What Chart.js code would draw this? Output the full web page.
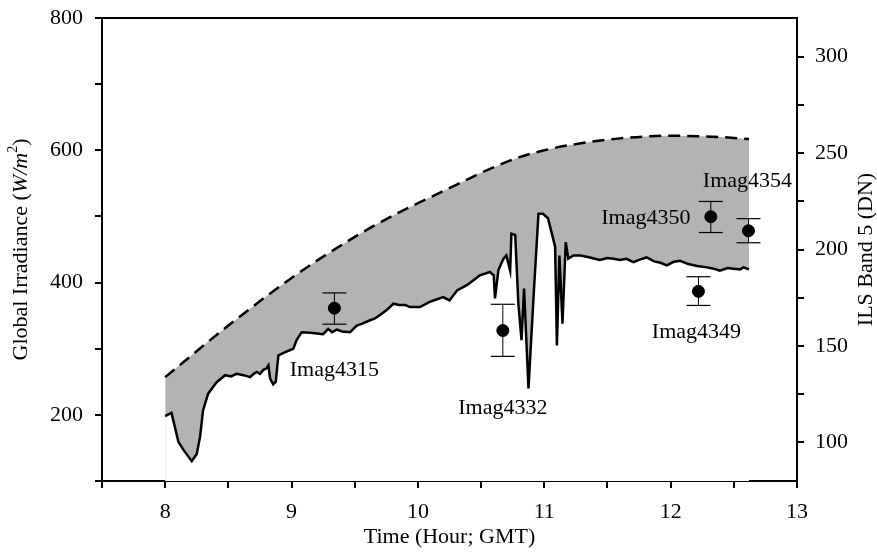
<!DOCTYPE html>
<html>
<head>
<meta charset="utf-8">
<script src="https://cdn.jsdelivr.net/npm/chart.js@4/dist/chart.umd.min.js"></script>
<style>
  html, body { margin: 0; padding: 0; background: #fff; }
  #wrap { width: 877px; height: 552px; }
</style>
</head>
<body>
<div id="wrap"><canvas id="grafica" width="877" height="552"></canvas></div>
<script>
// measured global irradiance (W/m2), solid line
const measTime = [8.00, 8.05, 8.105, 8.145, 8.21, 8.25, 8.276, 8.30, 8.34, 8.405, 8.474, 8.52, 8.566, 8.62, 8.672, 8.70,
    8.725, 8.75, 8.777, 8.80, 8.817, 8.83, 8.855, 8.875, 8.896, 8.95, 9.014, 9.04, 9.08, 9.15, 9.25, 9.29,
    9.32, 9.358, 9.40, 9.463, 9.516, 9.56, 9.621, 9.66, 9.70, 9.75, 9.806, 9.85, 9.90, 9.938, 10.017, 10.096,
    10.2, 10.25, 10.31, 10.387, 10.45, 10.49, 10.57, 10.60, 10.61, 10.637, 10.677, 10.70, 10.73, 10.74, 10.77, 10.795,
    10.82, 10.84, 10.875, 10.915, 10.954, 10.99, 11.03, 11.06, 11.086, 11.10, 11.12, 11.144, 11.17, 11.19, 11.23, 11.284,
    11.336, 11.40, 11.44, 11.50, 11.547, 11.60, 11.65, 11.706, 11.76, 11.81, 11.87, 11.92, 11.97, 12.02, 12.075, 12.14,
    12.21, 12.287, 12.34, 12.39, 12.45, 12.497, 12.55, 12.576, 12.62];
const measIrr = [198, 203, 159, 147, 130, 141, 167, 207, 232, 249, 260, 258, 262, 260, 257, 262,
    265, 262, 268, 270, 275, 255, 246, 250, 290, 295, 300, 313, 325, 324, 322, 330,
    325, 329, 326, 325, 335, 338, 343, 346, 351, 358, 368, 366, 366, 363, 363, 371,
    378, 373, 388, 396, 405, 411, 416, 411, 376, 419, 436, 441, 418, 474, 472, 368,
    313, 391, 240, 378, 504, 504, 497, 474, 454, 305, 441, 338, 461, 436, 441, 441,
    439, 436, 434, 437, 436, 434, 436, 431, 435, 438, 432, 430, 426, 431, 433, 428,
    425, 423, 421, 418, 422, 421, 420, 423, 420];

// clear sky irradiance (W/m2), dashed line
const clearTime = [8.0, 8.5, 9.0, 9.5, 9.86, 10.0, 10.307, 10.5, 10.81, 11.0, 11.205, 11.6, 12.0, 12.392, 12.62];
const clearIrr = [257, 335, 407, 469, 507, 520, 548, 566, 590, 600, 608, 618, 622, 620, 617];

// ILS band 5 (DN) for each image, with error range
const imageNames = ['Imag4315', 'Imag4332', 'Imag4349', 'Imag4350', 'Imag4354'];
const imageTime = [9.339, 10.672, 12.22, 12.318, 12.616];
const imageDN = [169.6, 158, 178.3, 217, 209.7];
const imageDNHigh = [177.5, 171.6, 185.9, 224.9, 216];
const imageDNLow = [161.3, 144.6, 171, 208.8, 203.5];

// tick labels
const xTickLabels = [8, 9, 10, 11, 12, 13];
const yTickLabels = [200, 400, 600, 800];
const y2TickLabels = [100, 150, 200, 250, 300];

const FUENTE = 'Liberation Serif';
// pixel offsets of each image label from its point
const labelOffsets = [[0, 62], [0, 78], [-2, 41], [-65, 2], [-1, -50]];

const toXY = (xs, ys) => xs.map((x, i) => ({ x: x, y: ys[i] }));

const errorBars = imageNames.map((n, i) => ({
    data: [{ x: imageTime[i], y: imageDNLow[i] }, { x: imageTime[i], y: imageDNHigh[i] }],
    yAxisID: 'y2',
    borderColor: '#000',
    borderWidth: 1,
    pointStyle: 'line',
    pointRadius: 12,
    pointBorderColor: '#000',
    pointBorderWidth: 1.2,
    fill: false
}));

const extras = {
    id: 'extras',
    afterDraw(chart) {
        const ctx = chart.ctx;
        const a = chart.chartArea;
        ctx.save();
        // top frame line
        ctx.strokeStyle = '#000';
        ctx.lineWidth = 2;
        ctx.beginPath();
        ctx.moveTo(a.left - 1, a.top);
        ctx.lineTo(a.right + 1, a.top);
        ctx.stroke();

        ctx.fillStyle = '#000';
        ctx.textBaseline = 'middle';
        ctx.textAlign = 'center';
        ctx.font = '22px "' + FUENTE + '"';

        // image labels
        const sx = chart.scales.x, sy2 = chart.scales.y2;
        imageNames.forEach((n, i) => {
            const px = sx.getPixelForValue(imageTime[i]) + labelOffsets[i][0];
            const py = sy2.getPixelForValue(imageDN[i]) + labelOffsets[i][1];
            ctx.fillText(n, px, py);
        });

        // x title
        ctx.fillText('Time (Hour; GMT)', (a.left + a.right) / 2, 537);

        // right title
        ctx.save();
        ctx.translate(866, (a.top + a.bottom) / 2);
        ctx.rotate(-Math.PI / 2);
        ctx.fillText('ILS Band 5 (DN)', 0, 0);
        ctx.restore();

        // left title with italic units and superscript
        const partes = [
            { t: 'Global Irradiance (', f: '22px "' + FUENTE + '"', dy: 0 },
            { t: 'W/m', f: 'italic 22px "' + FUENTE + '"', dy: 0 },
            { t: '2', f: '14px "' + FUENTE + '"', dy: -8 },
            { t: ')', f: '22px "' + FUENTE + '"', dy: 0 }
        ];
        let total = 0;
        partes.forEach(p => { ctx.font = p.f; p.w = ctx.measureText(p.t).width; total += p.w; });
        ctx.save();
        ctx.translate(21, (a.top + a.bottom) / 2);
        ctx.rotate(-Math.PI / 2);
        ctx.textAlign = 'left';
        let cx = -total / 2;
        partes.forEach(p => {
            ctx.font = p.f;
            ctx.fillText(p.t, cx, p.dy);
            cx += p.w;
        });
        ctx.restore();
        ctx.restore();
    }
};

const ctx = document.getElementById('grafica').getContext('2d');
new Chart(ctx, {
    type: 'line',
    data: {
        datasets: [
            {
                data: toXY(imageTime, imageDN),
                yAxisID: 'y2',
                showLine: false,
                pointRadius: 6,
                pointBackgroundColor: '#000',
                pointBorderColor: '#000',
                fill: false
            },
            ...errorBars,
            {
                data: toXY(measTime, measIrr),
                yAxisID: 'y',
                borderColor: '#000',
                borderWidth: 2.5,
                pointRadius: 0,
                tension: 0,
                fill: { target: 'origin' },
                backgroundColor: '#fff'
            },
            {
                data: toXY(clearTime, clearIrr),
                yAxisID: 'y',
                borderColor: '#000',
                borderWidth: 2.5,
                borderDash: [12, 7],
                pointRadius: 0,
                cubicInterpolationMode: 'monotone',
                fill: { target: 'origin' },
                backgroundColor: '#b3b3b3'
            }
        ]
    },
    options: {
        responsive: false,
        animation: false,
        layout: { padding: { top: 18, left: 0, right: 0, bottom: 0 } },
        plugins: { legend: { display: false }, tooltip: { enabled: false } },
        scales: {
            x: {
                type: 'linear',
                min: 7.5,
                max: 13,
                afterFit: s => { s.height = 71; s.paddingLeft = 0; s.paddingRight = 0; },
                afterBuildTicks: s => { s.ticks = s.ticks.filter(t => Math.abs(t.value * 2 - Math.round(t.value * 2)) < 1e-6); },
                ticks: {
                    stepSize: 0.5,
                    padding: 11,
                    color: '#000',
                    font: { family: FUENTE, size: 22 },
                    maxRotation: 0,
                    autoSkip: false,
                    callback: v => xTickLabels.includes(v) ? String(v) : ''
                },
                grid: { drawOnChartArea: false, tickLength: 7, color: '#000', lineWidth: 2 },
                border: { color: '#000', width: 2 }
            },
            y: {
                position: 'left',
                min: 100,
                max: 800,
                afterFit: s => { s.width = 102; s.paddingTop = 0; s.paddingBottom = 0; },
                ticks: {
                    stepSize: 100,
                    padding: 12,
                    color: '#000',
                    font: { family: FUENTE, size: 22 },
                    callback: v => yTickLabels.includes(v) ? String(v) : ''
                },
                grid: { drawOnChartArea: false, tickLength: 7, color: '#000', lineWidth: 2 },
                border: { color: '#000', width: 2 }
            },
            y2: {
                position: 'right',
                min: 80,
                max: 320,
                afterFit: s => { s.width = 80; s.paddingTop = 0; s.paddingBottom = 0; },
                afterBuildTicks: s => { s.ticks = s.ticks.filter(t => t.value % 25 === 0); },
                ticks: {
                    stepSize: 25,
                    padding: 11,
                    color: '#000',
                    font: { family: FUENTE, size: 22 },
                    callback: v => y2TickLabels.includes(v) ? String(v) : ''
                },
                grid: { drawOnChartArea: false, tickLength: 7, color: '#000', lineWidth: 2 },
                border: { color: '#000', width: 2 }
            }
        }
    },
    plugins: [extras]
});
</script>
</body>
</html>
